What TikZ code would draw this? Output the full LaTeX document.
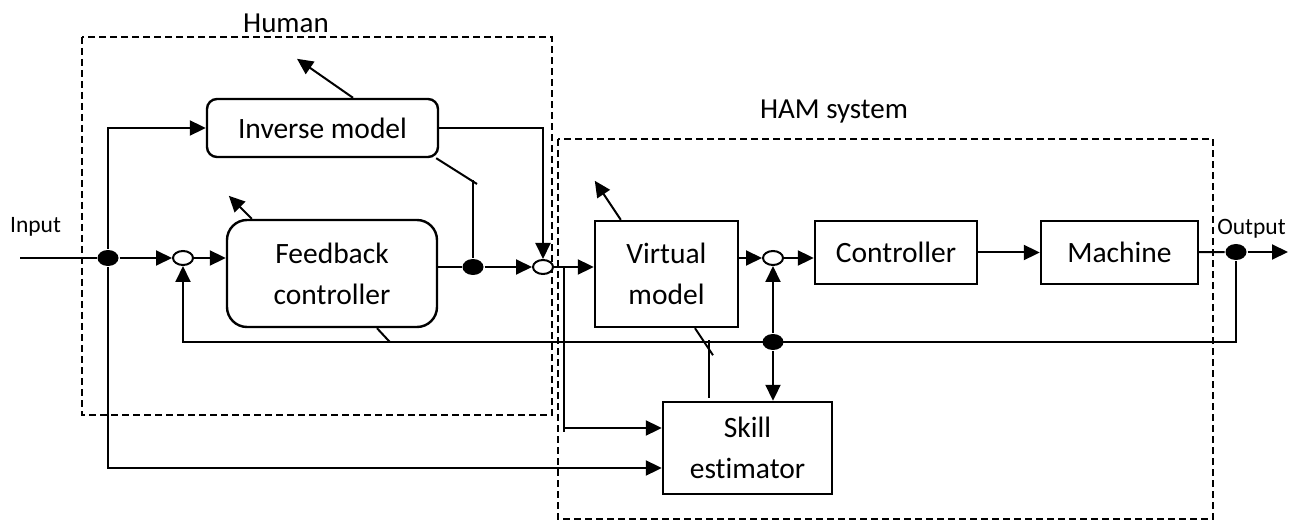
\documentclass[tikz,border=0pt]{standalone}
\usepackage{fontspec}
\setmainfont{Carlito}[Ligatures=NoCommon]
\usetikzlibrary{arrows.meta,shapes.geometric}
\begin{document}
\begin{tikzpicture}
[x=1pt,y=-1pt,line width=2pt,>={Triangle[length=16pt,width=15pt]},
 block/.style={draw,line width=2.4pt,inner sep=0pt,align=center,font=\fontsize{29.5}{41}\selectfont},
 sumc/.style={draw,ellipse,fill=white,inner sep=0pt,minimum width=20pt,minimum height=14pt},
 dotc/.style={ellipse,fill=black,inner sep=0pt,minimum width=21pt,minimum height=16pt},
 grp/.style={dash pattern=on 7pt off 4pt},
 lbl/.style={font=\fontsize{29}{34}\selectfont,anchor=base,inner sep=0pt},
 io/.style={font=\fontsize{23.5}{28}\selectfont,anchor=base,inner sep=0pt}]
\useasboundingbox (0,0) rectangle (1301,521);

% groups
\draw[grp] (82,37) rectangle (552,415);
\draw[grp] (558,139) rectangle (1213,519);
\node[lbl] (human) at (286,33) {Human};
\node[lbl] (ham) at (834,119) {HAM system};

% blocks
\node[block,rounded corners=10pt,minimum width=231pt,minimum height=58pt] (inv) at (322.5,128) {Inverse model};
\node[block,rounded corners=20pt,minimum width=210pt,minimum height=107pt] (fb) at (332,273.5) {Feedback\\controller};
\node[block,minimum width=143pt,minimum height=106pt] (vm) at (666.5,274) {Virtual\\model};
\node[block,minimum width=162pt,minimum height=63pt] (ctrl) at (896,252.5) {Controller};
\node[block,minimum width=157pt,minimum height=63pt] (mach) at (1119.5,252.5) {Machine};
\node[block,minimum width=169pt,minimum height=92pt] (se) at (747.5,448) {Skill\\estimator};

% junctions
\node[dotc] (d1) at (108,258) {};
\node[sumc] (s1) at (183,258) {};
\node[dotc] (d2) at (473,267) {};
\node[sumc] (s2) at (543,267) {};
\node[sumc] (s3) at (773,258) {};
\node[dotc] (d4) at (773,342) {};
\node[dotc] (d5) at (1236,252) {};

\coordinate (in) at (20,258);
\coordinate (out) at (1288,252);
\coordinate (br) at (564,267);
\coordinate (fbk) at (183,342);
\coordinate (sk1) at (564,428);
\coordinate (sk2) at (108,468);
\coordinate (invtip) at (477,184);
\node[io] (input) at (35.5,233) {Input};
\node[io] (output) at (1251.5,235) {Output};

% signal paths
\draw (in) -- (d1);
\draw[->] (d1) -- (s1);
\draw[->] (s1) -- (s1 -| fb.west);
\draw[->] (d1) |- (inv.west);
\draw (fb.east |- d2) -- (d2);
\draw[->] (d2) -- (s2);
\draw[->] (inv.east) -| (s2);
\draw[->] (s2) -- (s2 -| vm.west);
\draw[->] (s3 -| vm.east) -- (s3);
\draw[->] (s3) -- (s3 -| ctrl.west);
\draw[->] (ctrl) -- (mach);
\draw (mach) -- (d5);
\draw[->] (d5) -- (out);
\draw[->] (d5) |- (fbk) -- (s1);
\draw[->] (d4) -- (s3);
\draw[->] (d4) -- (d4 |- se.north);
\draw (br) -- ++(0,165);
\draw[->] (sk1) -- (sk1 -| se.west);
\draw[->] (d1) |- (sk2 -| se.west);

% adaptation
\draw[->] ([xshift=30.5pt]inv.north) -- ++(-56,-39);
\draw[->] ([xshift=26pt]fb.north west) -- ++(-23,-23);
\draw[->] ([xshift=27pt]vm.north west) -- ++(-26,-39);
\draw ([xshift=-3pt]inv.south east) -- (invtip);
\draw (d2) -- ++(0,-87);
\draw ([xshift=45pt]fb.south) -- ++(13,14);
\draw ([xshift=28.5pt]vm.south) -- ++(18,27);
\draw (709,340) -- (709,398);
\end{tikzpicture}
\end{document}
